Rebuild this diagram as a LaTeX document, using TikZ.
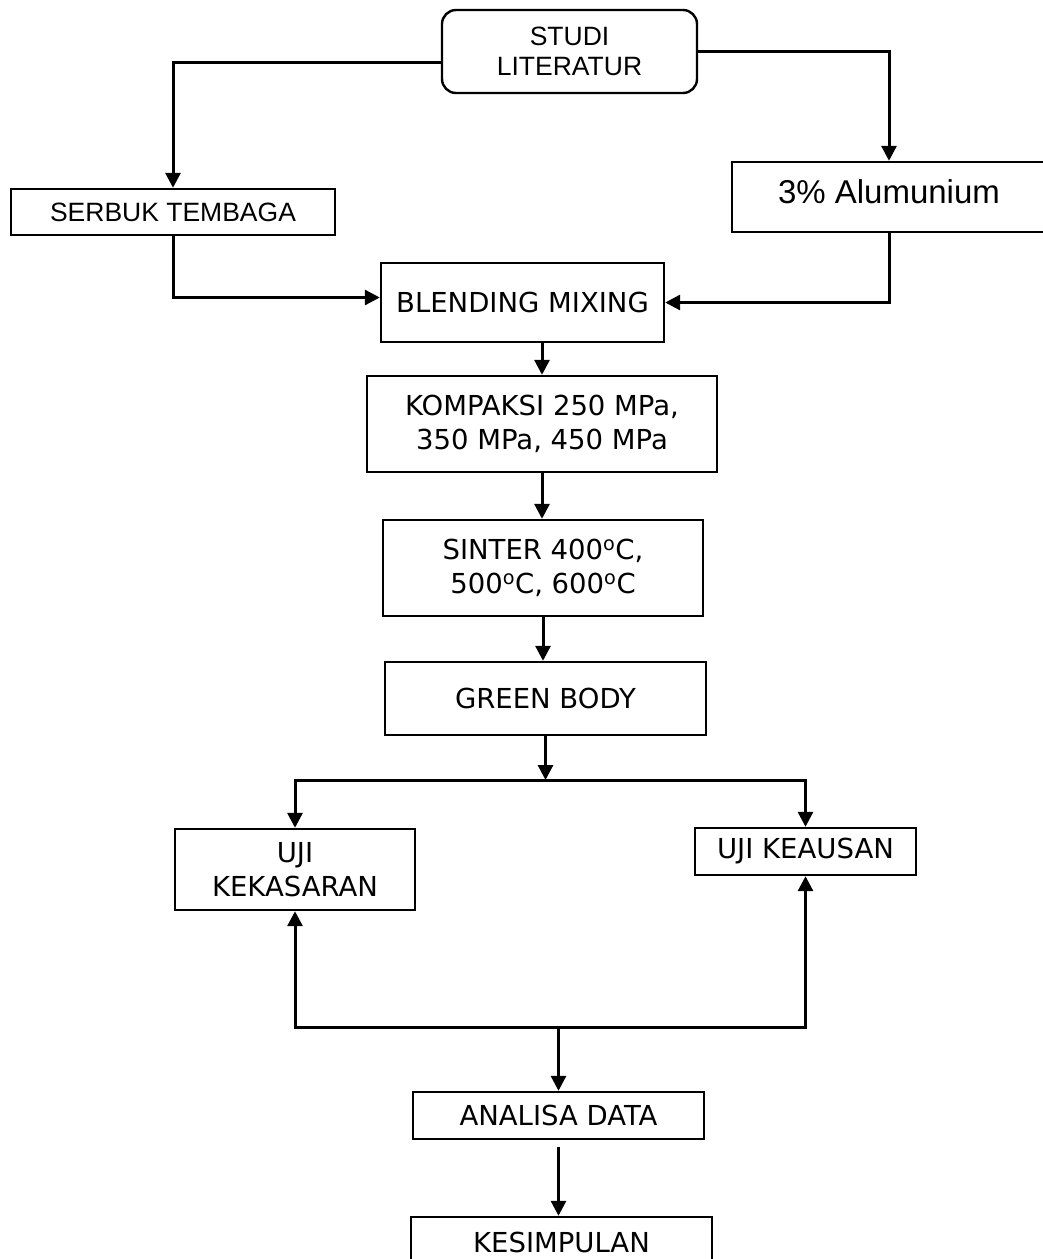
\documentclass[tikz,border=0pt]{standalone}
\usepackage{fontspec}
\setmainfont{DejaVu Sans}
\newfontfamily\arialfont{Liberation Sans}
\usetikzlibrary{arrows.meta}

\begin{document}
\begin{tikzpicture}[
		x=1pt, y=-1pt,
		box/.style={draw, line width=2.4pt, inner sep=0pt, align=center,
			font=\fontsize{27.5}{34}\selectfont},
		arialbox/.style={box, font=\arialfont\fontsize{26.5}{30}\selectfont},
		arr/.style={line width=3pt, -{Triangle[length=15pt,width=15pt]}}
	]
	\useasboundingbox (0,0) rectangle (1043,1259);

	\node[arialbox, rounded corners=14pt, minimum width=255pt, minimum height=83pt] (studi) at (569.5,51.5) {STUDI\\LITERATUR};
	\node[arialbox, minimum width=324pt, minimum height=46pt] (serbuk) at (173,212) {SERBUK TEMBAGA};
	\node[arialbox, font=\arialfont\fontsize{33}{36}\selectfont, text depth=10pt, minimum width=314pt, minimum height=70pt] (alum) at (889,197) {3\% Alumunium};
	\node[box, minimum width=283pt, minimum height=79pt] (blend) at (522.5,302.5) {BLENDING MIXING};
	\node[box, minimum width=350pt, minimum height=96pt] (kompaksi) at (542,424) {KOMPAKSI 250 MPa,\\350 MPa, 450 MPa};
	\node[box, minimum width=320pt, minimum height=96pt] (sinter) at (543,568) {SINTER 400\textsuperscript{o}C,\\500\textsuperscript{o}C, 600\textsuperscript{o}C};
	\node[box, minimum width=321pt, minimum height=73pt] (green) at (545.5,698.5) {GREEN BODY};
	\node[box, minimum width=240pt, minimum height=81pt] (kekasaran) at (295,869.5) {UJI\\KEKASARAN};
	\node[box, minimum width=221pt, minimum height=47pt] (keausan) at (805.5,851.5) {UJI KEAUSAN};
	\node[box, minimum width=291pt, minimum height=47pt] (analisa) at (558.5,1115.5) {ANALISA DATA};
	\node[box, minimum width=301pt, minimum height=50pt] (kesimpulan) at (561.5,1242) {KESIMPULAN};

	\coordinate (split) at (545.5,780);
	\coordinate (merge) at (558.5,1027);

	% bahan
	\draw[arr] (studi.west) ++(0,10.5) -| (serbuk.north);
	\draw[arr] (studi.east) ++(0,-0.5) -| (alum.north);
	\draw[arr] (serbuk.south) |- ([yshift=5pt]blend.west);
	\draw[arr] (alum.south) |- (blend.east);

	% proses
	\draw[arr] (blend.south -| kompaksi.north) -- (kompaksi.north);
	\draw[arr] (kompaksi.south) -- (kompaksi.south |- sinter.north);
	\draw[arr] (sinter.south) -- (sinter.south |- green.north);
	\draw[arr] (green.south) -- (split);
	\draw[arr] (split) -| (kekasaran.north);
	\draw[arr] (split) -| (keausan.north);

	% pengujian
	\draw[arr] (merge) -| (kekasaran.south);
	\draw[arr] (merge) -| (keausan.south);
	\draw[arr] (merge) -- (analisa.north);
	\draw[arr, shorten <=7pt] (analisa.south) -- (analisa.south |- kesimpulan.north);
\end{tikzpicture}
\end{document}
